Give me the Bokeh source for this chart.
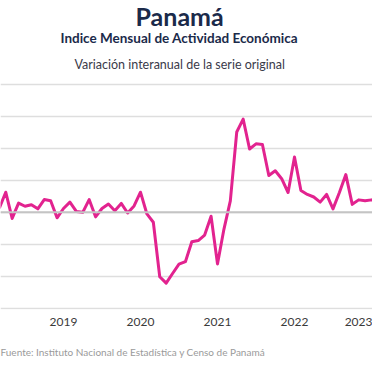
from bokeh.plotting import figure
from bokeh.models import Range1d, FixedTicker, Span, Title
from bokeh.embed import file_html
from bokeh.resources import INLINE

# ---- data ----
start_year = 2018
start_month = 3  # March 2018
values = [
    1.3, 6.3, -1.9, 2.9, 1.9, 2.4, 1.1, 4.0, 3.6, -1.7,           # Mar-Dec 2018
    1.2, 3.2, 0.3, 0.0, 4.0, -1.4, 1.2, 2.6, 0.5, 2.8, -0.2, 2.0,   # 2019
    6.3, -0.5, -3.1, -20.1, -22.1, -19.1, -16.2, -15.4, -9.2, -8.8, -7.1, -1.2,  # 2020
    -16.1, -5.3, 3.6, 25.1, 29.1, 19.8, 21.4, 21.2, 11.5, 13.0, 10.5, 6.2,       # 2021
    17.3, 6.8, 5.6, 4.8, 3.2, 5.6, 1.1, 6.2, 11.8, 2.5, 3.9, 3.6,  # 2022
    3.9, 3.3, 3.1,                                                  # 2023
]
tick_years = [2019, 2020, 2021, 2022, 2023]
tick_labels = ["2019", "2020", "2021", "2022", "2023"]
grid_values = [-30, -20, -10, 0, 10, 20, 30, 40]

title = "Panamá"
subtitle = "Indice Mensual de  Actividad Económica"
subtitle2 = "Variación interanual de la serie original"
source = "Fuente: Instituto Nacional de Estadística y Censo de Panamá"

# month positions (year + fraction)
xs = [start_year + (start_month - 1 + i) / 12.0 for i in range(len(values))]

FONT = "Lato"
W, H = 372, 372
NAVY = "#1B2A4A"

p = figure(width=W, height=H, output_backend="svg", toolbar_location=None,
           x_range=Range1d(2018.182, 2023.013), y_range=Range1d(-30.34, 40.87),
           y_axis_location=None, min_border_left=0, min_border_right=0,
           min_border_top=80, min_border_bottom=62)
p.outline_line_color = None
p.background_fill_color = "white"
p.border_fill_color = "white"

p.xgrid.grid_line_color = None
p.ygrid.ticker = FixedTicker(ticks=grid_values)
p.ygrid.grid_line_color = "#dedede"
p.ygrid.grid_line_width = 1.5

zero = Span(location=0, dimension="width", line_color="#c4c4c4", line_width=2)
p.add_layout(zero)

ax = p.xaxis[0]
ax.ticker = FixedTicker(ticks=tick_years)
ax.major_label_overrides = {y: l for y, l in zip(tick_years, tick_labels)}
ax.axis_line_color = None
ax.major_tick_line_color = None
ax.minor_tick_line_color = None
ax.major_tick_out = 0
ax.major_tick_in = 0
ax.major_label_standoff = 8
ax.major_label_text_font = FONT
ax.major_label_text_font_size = "12px"
ax.major_label_text_color = "#3a3a3a"

p.line(xs, values, line_color="#E2238F", line_width=3, line_join="round")

# main title (outermost)
p.title.text = title
p.title.align = "left"
p.title.offset = 135
p.title.standoff = -3.5
p.title.text_font = FONT
p.title.text_font_size = "25px"
p.title.text_font_style = "bold"
p.title.text_color = NAVY

# stacked outward from the plot
p.add_layout(Title(text=subtitle2, align="left", offset=74, standoff=20,
                   text_font=FONT, text_font_size="12.5px", text_font_style="normal",
                   text_color="#3a3a4a"), "above")
p.add_layout(Title(text=subtitle, align="left", offset=60, standoff=-3,
                   text_font=FONT, text_font_size="13.5px", text_font_style="bold",
                   text_color=NAVY), "above")

p.add_layout(Title(text=source, align="left", offset=0, standoff=30,
                   text_font=FONT, text_font_size="10px", text_font_style="normal",
                   text_color="#9a9a9a"), "below")

open("out.html", "w").write(file_html(p, INLINE))
